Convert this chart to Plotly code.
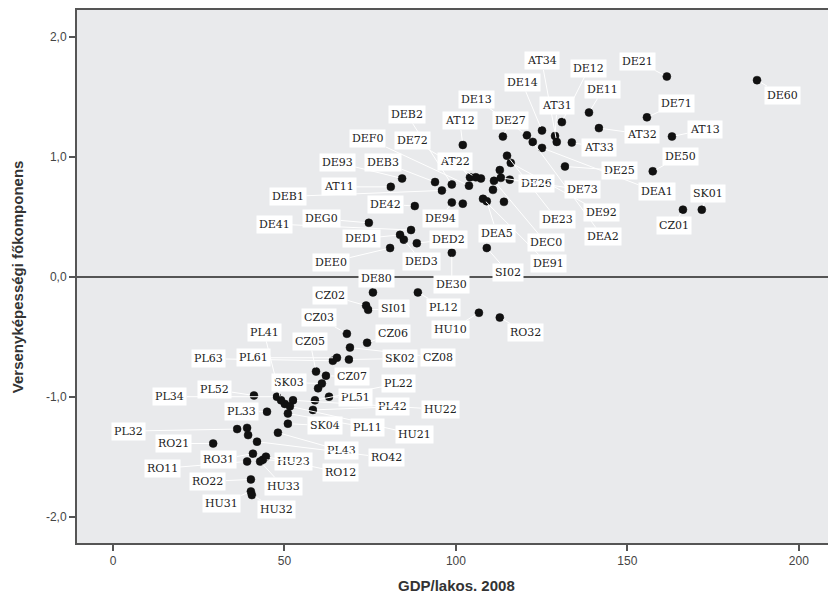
import plotly.graph_objects as go

# ---- data ----
regions = [
    "DE60", "DE21", "DE11", "DE71", "DE12", "AT34", "DE14", "AT31", "DE13", "DE27",
    "AT12", "AT32", "AT13", "AT33", "DE50", "DE25", "DEA1", "DEA2", "DE92", "DE23",
    "DEC0", "DE91", "DE26", "DE73", "AT22", "AT11", "DE93", "DEB3", "DEB2", "DEF0",
    "DE72", "DEB1", "DE42", "DE94", "DEA5", "CZ01", "SK01", "DEG0", "DED1", "DE41",
    "DED3", "DED2", "DEE0", "DE30", "SI02", "DE80", "PL12", "CZ02", "SI01", "HU10",
    "RO32", "CZ03", "CZ06", "CZ08", "SK02", "PL63", "PL61", "CZ05", "CZ07", "SK03",
    "PL51", "PL22", "PL42", "HU22", "HU21", "PL41", "PL52", "PL34", "PL33", "SK04",
    "PL11", "PL43", "PL32", "RO21", "RO31", "HU23", "RO11", "RO12", "RO42", "RO22",
    "HU33", "HU31", "HU32",
]
gdp = [
    187.8, 161.5, 138.8, 155.7, 130.9, 129.4, 125.1, 128.9, 120.7, 113.7,
    102.0, 141.7, 163.0, 133.8, 157.4, 131.8, 125.1, 122.4, 116.0, 114.9,
    111.1, 107.9, 115.7, 113.1, 104.1, 81.0, 84.3, 93.9, 98.8, 103.8,
    105.8, 95.9, 88.0, 98.8, 109.0, 166.2, 171.7, 74.6, 83.7, 86.9,
    84.8, 88.6, 80.8, 98.8, 109.0, 75.8, 88.9, 73.8, 74.4, 106.7,
    112.8, 68.2, 74.1, 69.1, 68.8, 64.1, 65.3, 59.2, 62.1, 60.9,
    63.0, 58.9, 58.3, 52.5, 51.6, 49.0, 41.1, 47.8, 44.9, 51.0,
    51.0, 48.1, 36.2, 29.2, 40.8, 43.7, 39.1, 44.6, 42.0, 40.2,
    42.9, 40.2, 40.5,
]
comp = [
    1.64, 1.67, 1.37, 1.33, 1.29, 1.125, 1.22, 1.175, 1.18, 1.17,
    1.10, 1.24, 1.17, 1.12, 0.88, 0.92, 1.075, 1.125, 0.95, 1.01,
    0.80, 0.65, 0.81, 0.825, 0.83, 0.75, 0.82, 0.79, 0.77, 0.76,
    0.83, 0.72, 0.59, 0.62, 0.63, 0.56, 0.56, 0.45, 0.35, 0.39,
    0.31, 0.28, 0.24, 0.20, 0.24, -0.13, -0.13, -0.24, -0.275, -0.30,
    -0.34, -0.475, -0.55, -0.59, -0.69, -0.70, -0.675, -0.79, -0.825, -0.89,
    -1.00, -1.03, -1.11, -1.03, -1.08, -1.03, -0.99, -1.00, -1.125, -1.225,
    -1.14, -1.30, -1.27, -1.39, -1.475, -1.525, -1.54, -1.50, -1.375, -1.69,
    -1.54, -1.79, -1.82,
]
# points whose labels are hidden in the reference (overlaps)
unlabeled_gdp = [112.8, 107.3, 110.8, 102.0, 114.0, 59.8, 50.1, 39.1, 39.4]
unlabeled_comp = [0.89, 0.82, 0.725, 0.61, 0.625, -0.93, -1.06, -1.26, -1.32]

x_ticks = [0, 50, 100, 150, 200]
y_ticks = [-2, -1, 0, 1, 2]
y_tick_labels = ["-2,0", "-1,0", "0,0", "1,0", "2,0"]
x_title = "GDP/lakos. 2008"
y_title = "Versenyképességi főkomponens"

# ---- label placement (pixel offsets from the marker, styling only) ----
LABEL_OFFSETS = {
    "DE60": (25, 15), "DE21": (-29, -15), "DE11": (14, -23), "DE71": (30, -14),
    "DE12": (27, -54), "AT34": (-15, -81), "DE14": (-20, -48), "AT31": (2, -30),
    "DE13": (-50, -36), "DE27": (8, -16), "AT12": (-3, -24), "AT32": (43, 6),
    "AT13": (33, -7), "AT33": (27, 5), "DE50": (28, -15), "DE25": (55, 4),
    "DEA1": (115, 44), "DEA2": (70, 95), "DE92": (91, 50), "DE23": (50, 64),
    "DEC0": (52, 62), "DE91": (65, 65), "DE26": (27, 4), "DE73": (82, 12),
    "AT22": (-15, -16), "AT11": (-52, 0), "DE93": (-65, -16), "DEB3": (-52, -20),
    "DEB2": (-45, -70), "DEF0": (-101, -47), "DE72": (-63, -37), "DEB1": (-154, 6),
    "DE42": (-29, -2), "DE94": (-11, 16), "DEA5": (10, 32), "CZ01": (-9, 16),
    "SK01": (6, -16), "DEG0": (-47, -4), "DED1": (-39, 4), "DE41": (-137, -6),
    "DED3": (18, 22), "DED2": (32, -4), "DEE0": (-59, 14), "DE30": (0, 32),
    "SI02": (21, 24), "DE80": (4, -14), "PL12": (26, 15), "CZ02": (-36, -10),
    "SI01": (26, -1), "HU10": (-28, 17), "RO32": (26, 15), "CZ03": (-28, -16),
    "CZ06": (26, -9), "CZ08": (88, 10), "SK02": (51, -1), "PL63": (-124, -2),
    "PL61": (-83, 0), "CZ05": (-6, -30), "CZ07": (26, 1), "SK03": (-33, -1),
    "PL51": (26, 1), "PL22": (84, -17), "PL42": (80, -3), "HU22": (147, 9),
    "HU21": (125, 28), "PL41": (-17, -68), "PL52": (-39, -6), "PL34": (-107, 0),
    "PL33": (-25, 0), "SK04": (37, 2), "PL11": (80, 14), "PL43": (64, 18),
    "PL32": (-109, 2), "RO21": (-40, 0), "RO31": (-34, 6), "HU23": (31, 2),
    "RO11": (-85, 7), "RO12": (75, 16), "RO42": (129, 16), "RO22": (-43, 2),
    "HU33": (23, 25), "HU31": (-29, 12), "HU32": (25, 14),
}

fig = go.Figure()
marker_style = dict(color="#111111", size=8, line=dict(color="#111111", width=0.5))
fig.add_trace(go.Scatter(x=unlabeled_gdp, y=unlabeled_comp, mode="markers",
                         marker=marker_style, hoverinfo="skip", showlegend=False))
fig.add_trace(go.Scatter(x=gdp, y=comp, mode="markers", marker=marker_style,
                         text=regions, hoverinfo="text", showlegend=False))

annotations = []
for name, xv, yv in zip(regions, gdp, comp):
    dx, dy = LABEL_OFFSETS[name]
    annotations.append(dict(
        x=xv, y=yv, xref="x", yref="y", text=name, showarrow=True,
        ax=dx, ay=dy, arrowhead=0, arrowwidth=1, arrowcolor="white", standoff=4,
        bgcolor="white", borderpad=2,
        font=dict(family="DejaVu Serif", size=11, color="#222222"),
    ))

# axis titles placed as annotations so the plot area keeps its margins
annotations.append(dict(
    x=0.505, y=-0.08, xref="paper", yref="paper", text="<b>" + x_title + "</b>",
    showarrow=False, xanchor="center", yanchor="middle",
    font=dict(family="Liberation Sans", size=15, color="#333333"),
))
annotations.append(dict(
    x=-0.079, y=0.5, xref="paper", yref="paper", text="<b>" + y_title + "</b>",
    showarrow=False, xanchor="center", yanchor="middle", textangle=-90,
    font=dict(family="Liberation Sans", size=15, color="#333333"),
))

fig.update_layout(
    width=828, height=595,
    margin=dict(l=77, r=0, t=10, b=52, autoexpand=False),
    paper_bgcolor="white", plot_bgcolor="#e9eaec",
    annotations=annotations,
    font=dict(family="Liberation Sans", color="#333333"),
)
fig.update_xaxes(
    range=[-10.5, 208.5], tickvals=x_ticks, showgrid=False, zeroline=False,
    showline=True, linecolor="#555555", linewidth=2, mirror=True,
    ticks="outside", ticklen=6, tickwidth=2, tickcolor="#555555",
    tickfont=dict(size=12, color="#444444"), automargin=False,
)
fig.update_yaxes(
    range=[-2.22, 2.225], tickvals=y_ticks, ticktext=y_tick_labels, showgrid=False,
    zeroline=True, zerolinecolor="#555555", zerolinewidth=1.5,
    showline=True, linecolor="#555555", linewidth=2, mirror=True,
    ticks="outside", ticklen=6, tickwidth=2, tickcolor="#555555",
    tickfont=dict(size=12, color="#444444"), automargin=False,
)

fig.write_html(
    "out.html",
    config={"displayModeBar": False},
    post_script="document.body.style.margin='0';document.body.style.overflow='hidden';",
)
